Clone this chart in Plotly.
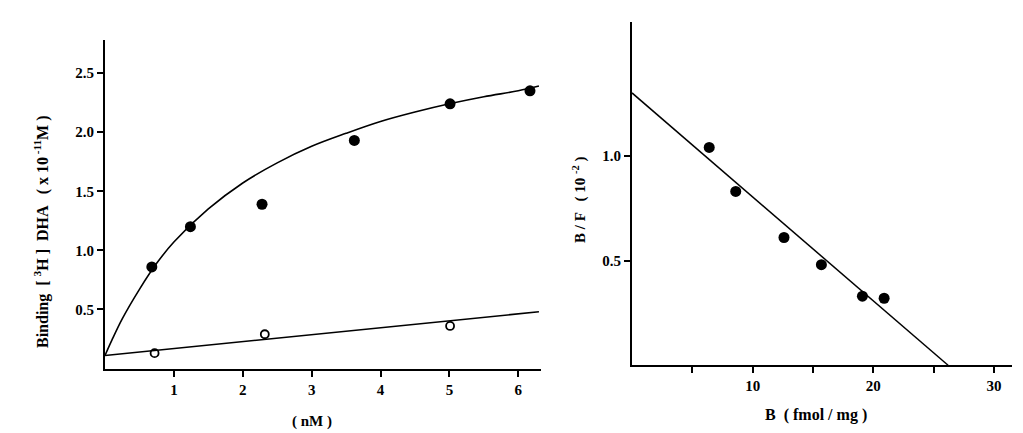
import plotly.graph_objects as go

W, H = 1023, 433

# ---- Left panel data: saturation binding ----
total_x = [0.68, 1.24, 2.28, 3.62, 5.01, 6.17]
total_y = [0.86, 1.20, 1.39, 1.93, 2.24, 2.35]
nonspec_x = [0.72, 2.32, 5.01]
nonspec_y = [0.13, 0.29, 0.36]
# fitted curves
curve_x = [0.0, 0.1, 0.25, 0.5, 0.75, 1.0, 1.5, 2.0, 2.5, 3.0, 3.5, 4.0, 4.5, 5.0, 5.5, 6.0, 6.3]
curve_y = [0.11, 0.24, 0.42, 0.67, 0.89, 1.07, 1.35, 1.57, 1.74, 1.88, 1.99, 2.09, 2.17, 2.24, 2.30, 2.35, 2.39]
line_x = [0.0, 6.3]
line_y = [0.11, 0.48]
left_xticks = [1, 2, 3, 4, 5, 6]
left_yticks = [0.5, 1.0, 1.5, 2.0, 2.5]
left_yticklabels = ["0.5", "1.0", "1.5", "2.0", "2.5"]

# ---- Right panel data: Scatchard plot ----
sc_x = [6.4, 8.6, 12.6, 15.7, 19.1, 20.9]
sc_y = [1.04, 0.83, 0.61, 0.48, 0.33, 0.32]
fit_x = [0.0, 26.2]
fit_y = [1.30, 0.0]
right_xticks = [5, 10, 15, 20, 25, 30]
right_xticklabels = ["", "10", "", "20", "", "30"]
right_yticks = [0.5, 1.0]
right_yticklabels = ["0.5", "1.0"]

def px_x(p):
    return p / W

def px_y(p):
    return 1 - p / H

FONT = "Liberation Serif"

fig = go.Figure()

fig.add_trace(go.Scatter(x=curve_x, y=curve_y, mode="lines", line=dict(color="black", width=1.6, shape="spline"),
                         xaxis="x", yaxis="y", showlegend=False, hoverinfo="skip"))
fig.add_trace(go.Scatter(x=line_x, y=line_y, mode="lines", line=dict(color="black", width=1.6),
                         xaxis="x", yaxis="y", showlegend=False, hoverinfo="skip"))
fig.add_trace(go.Scatter(x=total_x, y=total_y, mode="markers",
                         marker=dict(symbol="circle", size=11, color="black"),
                         xaxis="x", yaxis="y", showlegend=False))
fig.add_trace(go.Scatter(x=nonspec_x, y=nonspec_y, mode="markers",
                         marker=dict(symbol="circle-open", size=8, color="black", line=dict(width=1.8)),
                         xaxis="x", yaxis="y", showlegend=False))

fig.add_trace(go.Scatter(x=fit_x, y=fit_y, mode="lines", line=dict(color="black", width=1.5),
                         xaxis="x2", yaxis="y2", showlegend=False, hoverinfo="skip"))
fig.add_trace(go.Scatter(x=sc_x, y=sc_y, mode="markers",
                         marker=dict(symbol="circle", size=11, color="black"),
                         xaxis="x2", yaxis="y2", showlegend=False))

tickfont = dict(family=FONT, size=15, color="black", weight="bold")
axis_common = dict(showgrid=False, zeroline=False, showline=True, linecolor="black", linewidth=2,
                   ticks="outside", ticklen=6, tickwidth=1.5, tickcolor="black", tickfont=tickfont,
                   fixedrange=True)

fig.update_layout(
    width=W, height=H,
    margin=dict(l=0, r=0, t=0, b=0),
    paper_bgcolor="white", plot_bgcolor="white",
    xaxis=dict(domain=[px_x(105), px_x(541)], range=[0, 6.33], tickmode="array",
               tickvals=left_xticks, ticktext=[str(v) for v in left_xticks],
               anchor="y", **axis_common),
    yaxis=dict(domain=[px_y(368.5), px_y(40)], range=[0, 2.78], tickmode="array",
               tickvals=left_yticks, ticktext=left_yticklabels, anchor="x", **axis_common),
    xaxis2=dict(domain=[px_x(632), px_x(1012)], range=[0, 31.5], tickmode="array",
                tickvals=right_xticks, ticktext=right_xticklabels, anchor="y2", **axis_common),
    yaxis2=dict(domain=[px_y(365.3), px_y(21.7)], range=[0, 1.64], tickmode="array",
                tickvals=right_yticks, ticktext=right_yticklabels, anchor="x2", **axis_common),
)

fig.add_annotation(x=px_x(41), y=px_y(232), xref="paper", yref="paper", textangle=-90,
                   text="Binding  [ <sup>3</sup>H ]  DHA   ( x 10<sup> -11</sup>M )",
                   showarrow=False, font=dict(family=FONT, size=16, color="black", weight="bold"),
                   xanchor="center", yanchor="middle")
fig.add_annotation(x=px_x(312), y=px_y(421), xref="paper", yref="paper",
                   text="( nM )", showarrow=False, font=dict(family=FONT, size=15, color="black", weight="bold"),
                   xanchor="center", yanchor="middle")
fig.add_annotation(x=px_x(580), y=px_y(200), xref="paper", yref="paper", textangle=-90,
                   text="B / F   ( 10 <sup>-2</sup> )", showarrow=False,
                   font=dict(family=FONT, size=15, color="black", weight="bold"),
                   xanchor="center", yanchor="middle")
fig.add_annotation(x=px_x(816), y=px_y(415), xref="paper", yref="paper",
                   text="B  ( fmol / mg )", showarrow=False,
                   font=dict(family=FONT, size=16, color="black", weight="bold"),
                   xanchor="center", yanchor="middle")

fig.write_html("out.html")
